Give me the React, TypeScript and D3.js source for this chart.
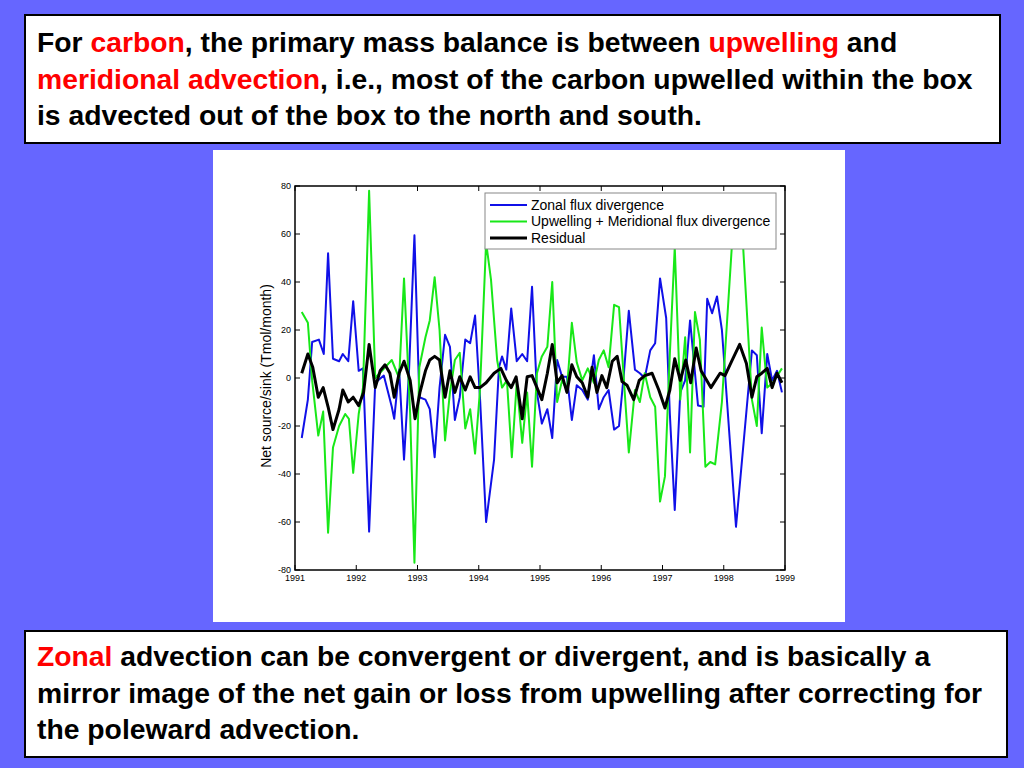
import * as d3 from 'd3'
import React from 'react'

// [decimal year, Tmol/month]
const zonal: [number, number][] = [
  [1991.11, -25], [1991.21, -9], [1991.28, 15], [1991.39, 16], [1991.47, 10], [1991.54, 52],
  [1991.62, 8], [1991.72, 7], [1991.78, 10], [1991.87, 7], [1991.95, 32], [1992.04, 3],
  [1992.11, 4], [1992.21, -64], [1992.31, -2], [1992.45, 1], [1992.58, -12], [1992.62, -17],
  [1992.70, 3.5], [1992.78, -34], [1992.86, 2], [1992.95, 59.5], [1993.03, -8], [1993.13, -9],
  [1993.20, -13], [1993.28, -33], [1993.36, -4], [1993.45, 18], [1993.53, 13], [1993.61, -17.5],
  [1993.69, -8], [1993.78, 16], [1993.86, 14.5], [1993.94, 26], [1994.02, -8], [1994.12, -60],
  [1994.25, -34], [1994.33, 4.5], [1994.38, 9], [1994.45, 3.5], [1994.53, 29], [1994.62, 7],
  [1994.71, 10], [1994.79, 7], [1994.87, 38], [1994.95, -6], [1995.03, -19], [1995.12, -13],
  [1995.20, -25], [1995.28, 7.5], [1995.36, 0.5], [1995.44, 0.5], [1995.52, -17.5], [1995.60, -3],
  [1995.69, -5], [1995.78, -9], [1995.88, 9.5], [1995.96, -13], [1996.04, -8], [1996.12, -5],
  [1996.21, -21.5], [1996.29, -20], [1996.37, 2], [1996.45, 28], [1996.55, 3.5], [1996.63, 2],
  [1996.71, 0], [1996.80, 11.5], [1996.88, 14.5], [1996.96, 41.5], [1997.06, 25], [1997.12, -15],
  [1997.20, -55], [1997.29, -6], [1997.37, -1], [1997.45, 24], [1997.58, -11.5], [1997.67, -12],
  [1997.73, 33], [1997.81, 27], [1997.89, 34], [1997.97, 20], [1998.20, -62], [1998.46, 11.5],
  [1998.54, 9.5], [1998.62, -23], [1998.71, 10], [1998.79, -1], [1998.87, 3], [1998.95, -6],
]

const upwelling: [number, number][] = [
  [1991.11, 27.5], [1991.21, 23], [1991.28, -1], [1991.38, -24], [1991.46, -14], [1991.54, -64.5],
  [1991.62, -29], [1991.72, -20], [1991.82, -15], [1991.88, -17], [1991.95, -39.5], [1992.04, -15],
  [1992.11, -4], [1992.21, 78], [1992.31, 0], [1992.40, 2.5], [1992.58, 7.5], [1992.70, 0],
  [1992.78, 41.5], [1992.88, -15], [1992.95, -77], [1993.03, 4.5], [1993.13, 17], [1993.20, 24],
  [1993.28, 42], [1993.36, 20], [1993.45, -26], [1993.53, -6], [1993.61, 7.5], [1993.69, 10.5],
  [1993.78, -21], [1993.86, -13], [1993.94, -31.5], [1994.02, -5], [1994.12, 56.5], [1994.20, 41],
  [1994.30, 7.5], [1994.38, -4], [1994.46, -1], [1994.54, -33], [1994.62, -2], [1994.71, -27],
  [1994.79, -6], [1994.87, -37], [1994.95, 2], [1995.03, 9], [1995.12, 13], [1995.20, 40],
  [1995.28, -10], [1995.36, -1], [1995.44, -5], [1995.52, 23], [1995.60, 6.5], [1995.69, -1],
  [1995.78, 4], [1995.88, -2], [1995.96, 7.5], [1996.04, 11.5], [1996.12, 4.5], [1996.21, 30.5],
  [1996.29, 29.5], [1996.37, -1], [1996.45, -31], [1996.55, -5], [1996.63, -10], [1996.71, 2],
  [1996.80, -8], [1996.88, -12], [1996.96, -51.5], [1997.04, -41], [1997.12, 10], [1997.20, 54.5],
  [1997.29, -9], [1997.37, 17], [1997.45, -31], [1997.53, 27.5], [1997.61, 16], [1997.70, -37],
  [1997.78, -35], [1997.86, -36], [1997.97, -10], [1998.15, 62], [1998.30, 62], [1998.46, -9],
  [1998.54, -20], [1998.62, 21], [1998.71, -4], [1998.80, -2], [1998.95, 4],
]

const residual: [number, number][] = [
  [1991.11, 2], [1991.21, 10], [1991.29, 4.5], [1991.38, -8], [1991.46, -4], [1991.54, -12],
  [1991.62, -21.5], [1991.72, -13], [1991.78, -5], [1991.87, -10], [1991.95, -8], [1992.04, -11.5],
  [1992.12, -6], [1992.21, 14], [1992.31, -4], [1992.39, 3], [1992.47, 5.5], [1992.55, 2],
  [1992.62, -8], [1992.70, 2], [1992.78, 7], [1992.88, -1], [1992.96, -17], [1993.04, -6],
  [1993.13, 3], [1993.20, 7.5], [1993.28, 9], [1993.36, 7.5], [1993.45, -8], [1993.53, 3],
  [1993.61, -6], [1993.69, 0.5], [1993.78, -5], [1993.86, 0.5], [1993.94, -4], [1994.02, -4],
  [1994.12, -2], [1994.25, 2], [1994.36, 4], [1994.45, -1], [1994.53, -4], [1994.61, 0.5],
  [1994.71, -17], [1994.79, 0.5], [1994.87, 1], [1994.95, -4], [1995.03, -9], [1995.12, 2],
  [1995.20, 14], [1995.28, -2], [1995.36, 1], [1995.44, -6], [1995.52, 5.5], [1995.60, 0.5],
  [1995.69, -2], [1995.78, -8], [1995.85, 4.5], [1995.93, -6], [1996.01, 1], [1996.09, -4],
  [1996.18, 7], [1996.26, 9], [1996.34, -1.5], [1996.42, -3], [1996.53, -9], [1996.62, -1],
  [1996.71, 1], [1996.83, 2], [1996.94, -5], [1997.04, -12.5], [1997.12, -5], [1997.20, 8],
  [1997.29, -1], [1997.38, 7.5], [1997.46, -2], [1997.55, 12.5], [1997.63, 3], [1997.79, -4],
  [1997.94, 2], [1998.02, 1], [1998.13, 7], [1998.26, 14], [1998.37, 6], [1998.46, -8],
  [1998.54, 0.5], [1998.62, 2], [1998.71, 4], [1998.79, -4], [1998.87, 2], [1998.95, -2],
]

const years = [1991, 1992, 1993, 1994, 1995, 1996, 1997, 1998, 1999]
const yTicks = [-80, -60, -40, -20, 0, 20, 40, 60, 80]

const legendItems = [
  { label: 'Zonal flux divergence', color: '#1010e8', width: 2 },
  { label: 'Upwelling + Meridional flux divergence', color: '#18e818', width: 2 },
  { label: 'Residual', color: '#000000', width: 3 },
]

const topLines = [
  [['For ', false], ['carbon', true], [', the primary mass balance is between ', false], ['upwelling', true], [' and', false]],
  [['meridional advection', true], [', i.e., most of the carbon upwelled within the box', false]],
  [['is advected out of the box to the north and south.', false]],
] as [string, boolean][][]

const bottomLines = [
  [['Zonal', true], [' advection can be convergent or divergent, and is basically a', false]],
  [['mirror image of the net gain or loss from upwelling after correcting for', false]],
  [['the poleward advection.', false]],
] as [string, boolean][][]

const plot = { left: 295, right: 785, top: 186, bottom: 570 }
const textFont = '"Liberation Sans", Arial, sans-serif'

const TextBlock = ({ lines, x, y0, dy }: { lines: [string, boolean][][]; x: number; y0: number; dy: number }) => (
  <text fontFamily={textFont} fontWeight="bold" fontSize={28.3} fill="#000">
    {lines.map((ln, i) => (
      <tspan key={i} x={x} y={y0 + i * dy}>
        {ln.map(([t, red], j) => (
          <tspan key={j} fill={red ? '#ff0000' : '#000'}>
            {t}
          </tspan>
        ))}
      </tspan>
    ))}
  </text>
)

const App = () => {
  const x = d3.scaleLinear().domain([1991, 1999]).range([plot.left, plot.right])
  const y = d3.scaleLinear().domain([-80, 80]).range([plot.bottom, plot.top])
  const line = d3
    .line<[number, number]>()
    .x((d) => x(d[0]))
    .y((d) => y(d[1]))

  const series = [zonal, upwelling, residual]
  const tick = 5
  const lx = 485
  const ly = 193

  return (
    <div style={{ position: 'absolute', left: 0, top: 0 }}>
      <svg width={1024} height={768} style={{ display: 'block' }}>
        <rect x={0} y={0} width={1024} height={768} fill="#6666ff" />

        <rect x={25} y={15} width={975} height={128} fill="#fff" stroke="#000" strokeWidth={2} />
        <TextBlock lines={topLines} x={37} y0={52} dy={36.5} />

        <rect x={25} y={631} width={982} height={126} fill="#fff" stroke="#000" strokeWidth={2} />
        <TextBlock lines={bottomLines} x={37} y0={666} dy={36.5} />

        <rect x={213} y={150} width={632} height={472} fill="#fff" />

        <g fontFamily="Helvetica, Arial, sans-serif" fontSize={9} fill="#000">
          {series.map((s, i) => (
            <path
              key={i}
              d={line(s) ?? ''}
              fill="none"
              stroke={legendItems[i].color}
              strokeWidth={legendItems[i].width}
              strokeLinejoin="round"
            />
          ))}

          <rect
            x={plot.left}
            y={plot.top}
            width={plot.right - plot.left}
            height={plot.bottom - plot.top}
            fill="none"
            stroke="#000"
            strokeWidth={1.5}
          />
          {years.map((yr) => (
            <g key={yr}>
              <line x1={x(yr)} x2={x(yr)} y1={plot.bottom} y2={plot.bottom - tick} stroke="#000" />
              <line x1={x(yr)} x2={x(yr)} y1={plot.top} y2={plot.top + tick} stroke="#000" />
              <text x={x(yr)} y={plot.bottom + 11} textAnchor="middle">
                {yr}
              </text>
            </g>
          ))}
          {yTicks.map((v) => (
            <g key={v}>
              <line x1={plot.left} x2={plot.left + tick} y1={y(v)} y2={y(v)} stroke="#000" />
              <line x1={plot.right} x2={plot.right - tick} y1={y(v)} y2={y(v)} stroke="#000" />
              <text x={plot.left - 4} y={y(v) + 3} textAnchor="end">
                {v}
              </text>
            </g>
          ))}
          <text
            transform={`translate(271,${y(0) - 2}) rotate(-90)`}
            textAnchor="middle"
            fontSize={14}
          >
            Net source/sink (Tmol/month)
          </text>

          <rect x={lx} y={ly} width={291} height={56} fill="#fff" stroke="#888" strokeWidth={1} />
          {legendItems.map((it, i) => (
            <g key={it.label}>
              <line
                x1={lx + 5}
                x2={lx + 42}
                y1={ly + 12 + i * 16.5}
                y2={ly + 12 + i * 16.5}
                stroke={it.color}
                strokeWidth={it.width}
              />
              <text x={lx + 46} y={ly + 16.5 + i * 16.5} fontSize={14}>
                {it.label}
              </text>
            </g>
          ))}
        </g>
      </svg>
    </div>
  )
}

export default App
